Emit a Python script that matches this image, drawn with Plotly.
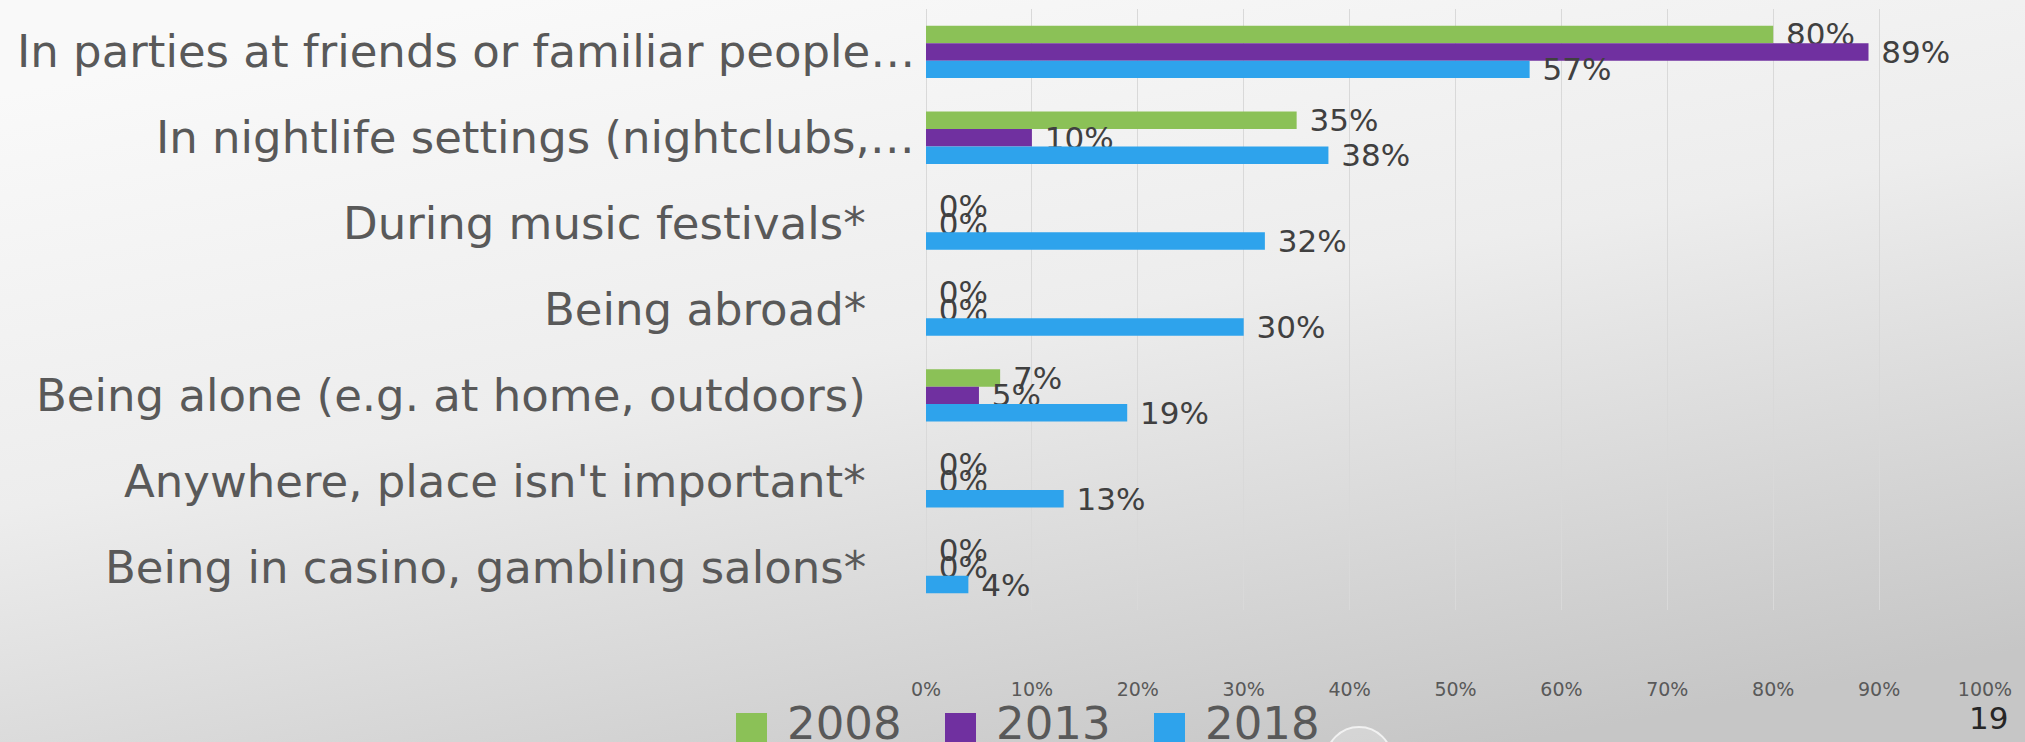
import base64
import plotly.graph_objects as go

categories = [
    "In parties at friends or familiar people…",
    "In nightlife settings (nightclubs,…",
    "During music festivals*",
    "Being abroad*",
    "Being alone (e.g. at home, outdoors)",
    "Anywhere, place isn't important*",
    "Being in casino, gambling salons*",
]
years = ["2008", "2013", "2018"]
v2008 = [80, 35, 0, 0, 7, 0, 0]
v2013 = [89, 10, 0, 0, 5, 0, 0]
v2018 = [57, 38, 32, 30, 19, 13, 4]
x_ticks = [0, 10, 20, 30, 40, 50, 60, 70, 80, 90, 100]

colors = ["#8BC157", "#7030A0", "#2EA3EC"]
series = [v2008, v2013, v2018]

W, H = 2025, 742
L, R, T, B = 926, 1985, 9, 610  # plot area in pixels


def px(x):
    return (x - L) / (R - L)


def py(y):
    return (B - y) / (B - T)


fig = go.Figure()
for name, vals, col in zip(years, series, colors):
    fig.add_trace(go.Bar(
        y=categories, x=vals, name=name, orientation="h",
        marker=dict(color=col, line=dict(width=0)),
        text=[f"\u00a0{v}%" for v in vals], texttemplate="%{text}", textposition="outside",
        constraintext="none", cliponaxis=False,
        textfont=dict(family="DejaVu Sans", size=31, color="#404040"),
        showlegend=False,
    ))

# gradient background as svg image
svg = f'''<svg xmlns="http://www.w3.org/2000/svg" width="{W}" height="{H}">
<defs><linearGradient id="g" x1="0.25" y1="0" x2="0.75" y2="1">
<stop offset="0" stop-color="#f9f9f9"/><stop offset="0.45" stop-color="#ededed"/>
<stop offset="1" stop-color="#c6c6c6"/></linearGradient></defs>
<rect width="{W}" height="{H}" fill="url(#g)"/></svg>'''
src = "data:image/svg+xml;base64," + base64.b64encode(svg.encode()).decode()

shapes = []
annotations = []

# category labels drawn as annotations (ellipsis-truncated ones sit closer to axis)
for c in categories:
    annotations.append(dict(
        x=0, xref="paper", y=c, yref="y", text=c, showarrow=False,
        xanchor="right", yanchor="middle", xshift=-9 if c.endswith("…") else -58,
        font=dict(family="DejaVu Sans", size=45, color="#595959"),
    ))

# legend
for i, (name, col) in enumerate(zip(years, colors)):
    x0 = 736 + i * 209
    shapes.append(dict(type="rect", xref="paper", yref="paper",
                       x0=px(x0), x1=px(x0 + 31), y0=py(713), y1=py(744),
                       fillcolor=col, line=dict(width=0)))
    annotations.append(dict(x=px(x0 + 49), y=py(723), xref="paper", yref="paper",
                            text=name, showarrow=False, xanchor="left", yanchor="middle",
                            font=dict(family="DejaVu Sans", size=45, color="#595959")))

annotations.append(dict(x=px(1988), y=py(718), xref="paper", yref="paper", text="19",
                        showarrow=False, xanchor="center", yanchor="middle",
                        font=dict(family="DejaVu Sans", size=31, color="#262626")))

shapes.append(dict(type="circle", xref="paper", yref="paper",
                   x0=px(1326), x1=px(1392), y0=py(793), y1=py(727),
                   fillcolor="rgba(235,235,235,0.35)", line=dict(color="rgba(250,250,250,0.8)", width=2)))

fig.update_layout(
    width=W, height=H,
    margin=dict(l=L, r=W - R, t=T, b=H - B),
    paper_bgcolor="#eeeeee", plot_bgcolor="rgba(0,0,0,0)",
    barmode="group", bargap=0.39, bargroupgap=0,
    images=[dict(source=src, xref="paper", yref="paper", x=px(0), y=py(0),
                 sizex=W / (R - L), sizey=H / (B - T), sizing="stretch",
                 xanchor="left", yanchor="top", layer="below")],
    shapes=shapes, annotations=annotations,
    xaxis=dict(range=[0, 100], tickvals=x_ticks, ticktext=[f"{t}%" for t in x_ticks],
               showgrid=True, gridcolor="#d9d9d9", gridwidth=1,
               zeroline=True, zerolinecolor="#d9d9d9", zerolinewidth=1,
               showline=False, ticks="", ticklabelstandoff=66,
               tickfont=dict(family="DejaVu Sans", size=19, color="#595959")),
    yaxis=dict(autorange="reversed", showticklabels=False, showgrid=False,
               zeroline=False, showline=False, ticks=""),
    showlegend=False,
)

fig.write_html("out.html", config={"displayModeBar": False},
               post_script="document.body.style.margin='0';document.body.style.overflow='hidden';")
